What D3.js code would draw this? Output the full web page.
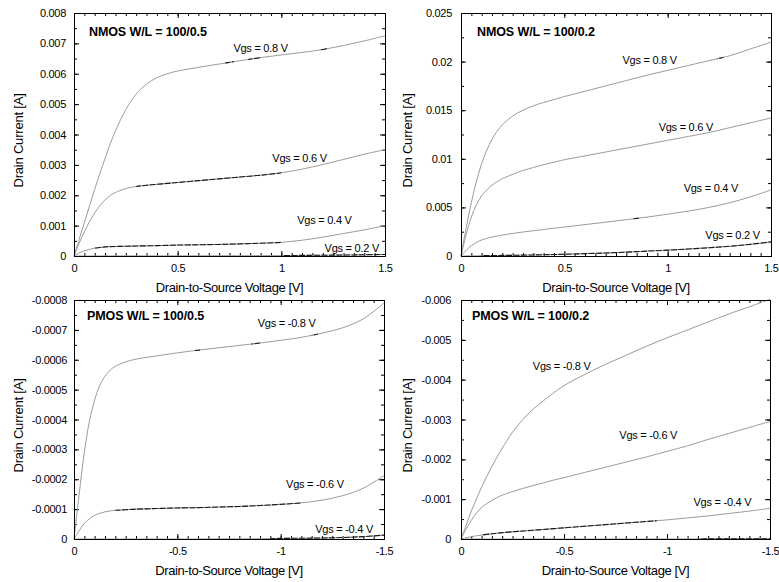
<!DOCTYPE html>
<html>
<head>
<meta charset="utf-8">
<script src="https://cdn.jsdelivr.net/npm/d3@7"></script>
<style>
  body { margin: 0; background: #fff; }
  svg { display: block; font-family: "Liberation Sans", Arial, Helvetica, sans-serif; }
</style>
</head>
<body>
<svg id="chart" width="779" height="582"></svg>
<script>
// Drain-to-source sweep points (magnitude, volts)
const vds = [0, 0.025, 0.05, 0.075, 0.1, 0.125, 0.15, 0.175, 0.2, 0.25, 0.3, 0.35, 0.4, 0.45, 0.5,
             0.6, 0.7, 0.8, 0.9, 1.0, 1.1, 1.2, 1.3, 1.4, 1.5];

// NMOS W/L = 100/0.5 drain current [mA]
const n05_vgs08 = [0, 0.55, 1.1, 1.65, 2.2, 2.72, 3.22, 3.7, 4.12, 4.82, 5.33, 5.66, 5.87, 6.0, 6.09,
                   6.21, 6.32, 6.43, 6.53, 6.62, 6.7, 6.8, 6.93, 7.08, 7.25];
const n05_vgs06 = [0, 0.42, 0.8, 1.13, 1.42, 1.66, 1.85, 1.99, 2.09, 2.22, 2.29, 2.33, 2.36, 2.39, 2.42,
                   2.48, 2.54, 2.6, 2.66, 2.74, 2.86, 3.01, 3.18, 3.35, 3.5];
const n05_vgs04 = [0, 0.1, 0.17, 0.22, 0.26, 0.28, 0.3, 0.31, 0.315, 0.32, 0.33, 0.335, 0.34, 0.35, 0.36,
                   0.37, 0.38, 0.4, 0.42, 0.45, 0.52, 0.62, 0.74, 0.86, 1.0];
const n05_vgs02 = [0, 0, 0, 0, 0.002, 0.002, 0.003, 0.003, 0.004, 0.005, 0.005, 0.005, 0.006, 0.006, 0.007,
                   0.008, 0.009, 0.01, 0.012, 0.015, 0.02, 0.025, 0.032, 0.04, 0.05];

// NMOS W/L = 100/0.2 drain current [mA]
const n02_vgs08 = [0, 2.9, 5.5, 7.7, 9.5, 10.9, 12.0, 12.85, 13.5, 14.4, 15.0, 15.45, 15.8, 16.1, 16.4,
                   16.95, 17.5, 18.05, 18.6, 19.1, 19.6, 20.1, 20.6, 21.3, 22.0];
const n02_vgs06 = [0, 2.2, 4.0, 5.3, 6.2, 6.8, 7.3, 7.65, 7.95, 8.4, 8.8, 9.1, 9.4, 9.65, 9.9,
                   10.3, 10.7, 11.1, 11.5, 11.9, 12.3, 12.7, 13.2, 13.7, 14.2];
const n02_vgs04 = [0, 0.6, 1.05, 1.4, 1.65, 1.82, 1.95, 2.05, 2.15, 2.32, 2.47, 2.6, 2.73, 2.86, 2.98,
                   3.23, 3.48, 3.74, 4.0, 4.3, 4.62, 5.0, 5.48, 6.08, 6.8];
const n02_vgs02 = [0, 0.01, 0.02, 0.03, 0.04, 0.045, 0.05, 0.055, 0.06, 0.07, 0.09, 0.11, 0.13, 0.15, 0.18,
                   0.24, 0.31, 0.4, 0.5, 0.6, 0.72, 0.85, 1.0, 1.2, 1.45];

// PMOS W/L = 100/0.5 drain current magnitude [µA]
const p05_vgs08 = [0, 150, 290, 395, 465, 515, 545, 565, 578, 593, 602, 608, 613, 618, 623,
                   632, 640, 648, 656, 665, 675, 689, 707, 737, 790];
const p05_vgs06 = [0, 28, 52, 68, 79, 86, 91, 94, 96, 98, 100, 101, 102, 103, 104,
                   105, 107, 109, 112, 116, 121, 130, 145, 170, 212];
const p05_vgs04 = [0, 0, 0, 0, 0, 0, 0, 0, 0, 0, 0, 0, 0, 0, 0,
                   0, 0.5, 0.5, 1, 2, 2.5, 3.5, 5, 8, 13];

// PMOS W/L = 100/0.2 drain current magnitude [mA]
const p02_vgs08 = [0, 0.35, 0.7, 1.01, 1.3, 1.57, 1.82, 2.06, 2.28, 2.68, 3.0, 3.26, 3.47, 3.67, 3.85,
                   4.13, 4.38, 4.61, 4.84, 5.05, 5.25, 5.45, 5.65, 5.83, 6.02];
const p02_vgs06 = [0, 0.25, 0.47, 0.65, 0.79, 0.89, 0.97, 1.04, 1.1, 1.19, 1.27, 1.34, 1.41, 1.48, 1.54,
                   1.67, 1.8, 1.93, 2.06, 2.2, 2.34, 2.5, 2.65, 2.8, 2.95];
const p02_vgs04 = [0, 0.03, 0.06, 0.08, 0.1, 0.115, 0.13, 0.145, 0.16, 0.18, 0.2, 0.22, 0.24, 0.26, 0.28,
                   0.32, 0.36, 0.4, 0.44, 0.48, 0.53, 0.58, 0.64, 0.7, 0.77];
const p02_vgs02 = [0, 0, 0, 0, 0, 0, 0, 0, 0, 0, 0, 0, 0, 0, 0,
                   0, 0, 0, 0, 0.001, 0.001, 0.002, 0.002, 0.003, 0.004];

// Gate-source levels
const vgsN = ["0.8", "0.6", "0.4", "0.2"];
const vgsP = ["-0.8", "-0.6", "-0.4", "-0.2"];

// Tick values and labels
const xTicksN = [0, 0.5, 1, 1.5];
const xLabelsN = ["0", "0.5", "1", "1.5"];
const xTicksP = [0, -0.5, -1, -1.5];
const xLabelsP = ["0", "-0.5", "-1", "-1.5"];
const yTicksN05 = [0, 0.001, 0.002, 0.003, 0.004, 0.005, 0.006, 0.007, 0.008];
const yLabelsN05 = ["0", "0.001", "0.002", "0.003", "0.004", "0.005", "0.006", "0.007", "0.008"];
const yTicksN02 = [0, 0.005, 0.01, 0.015, 0.02, 0.025];
const yLabelsN02 = ["0", "0.005", "0.01", "0.015", "0.02", "0.025"];
const yTicksP05 = [0, -0.0001, -0.0002, -0.0003, -0.0004, -0.0005, -0.0006, -0.0007, -0.0008];
const yLabelsP05 = ["0", "-0.0001", "-0.0002", "-0.0003", "-0.0004", "-0.0005", "-0.0006", "-0.0007", "-0.0008"];
const yTicksP02 = [0, -0.001, -0.002, -0.003, -0.004, -0.005, -0.006];
const yLabelsP02 = ["0", "-0.001", "-0.002", "-0.003", "-0.004", "-0.005", "-0.006"];

// Panel layout: frame box, unit of the stored currents, label anchors (V, A)
// and voltage spans where the trace prints darker
const panels = [
  {
    title: "NMOS W/L = 100/0.5", box: { l: 74, t: 13, r: 385, b: 256 }, titleAt: [89, 36],
    sign: 1, unit: 1e-3, yMax: 0.008, xTicks: xTicksN, xLabels: xLabelsN, yTicks: yTicksN05, yLabels: yLabelsN05,
    yPad: 8, yTitleX: 18,
    series: [
      { vgs: vgsN[0], cur: n05_vgs08, at: [0.90, 0.00684], dark: [[0.73, 0.77], [0.84, 0.9], [1.19, 1.22]] },
      { vgs: vgsN[1], cur: n05_vgs06, at: [1.088, 0.00323], dark: [[0.3, 1.0]] },
      { vgs: vgsN[2], cur: n05_vgs04, at: [1.208, 0.00118], dark: [[0.1, 1.0]] },
      { vgs: vgsN[3], cur: n05_vgs02, at: [1.34, 0.00025], dark: [[1.0, 1.5]] }
    ]
  },
  {
    title: "NMOS W/L = 100/0.2", box: { l: 461, t: 13, r: 771, b: 256 }, titleAt: [477, 36],
    sign: 1, unit: 1e-3, yMax: 0.025, xTicks: xTicksN, xLabels: xLabelsN, yTicks: yTicksN02, yLabels: yLabelsN02,
    yPad: 9, yTitleX: 407,
    series: [
      { vgs: vgsN[0], cur: n02_vgs08, at: [0.913, 0.0202], dark: [[1.24, 1.27]] },
      { vgs: vgsN[1], cur: n02_vgs06, at: [1.088, 0.0133], dark: [] },
      { vgs: vgsN[2], cur: n02_vgs04, at: [1.209, 0.00697], dark: [[0.83, 0.86]] },
      { vgs: vgsN[3], cur: n02_vgs02, at: [1.314, 0.00216], dark: [[0.1, 1.5]] }
    ]
  },
  {
    title: "PMOS W/L = 100/0.5", box: { l: 74, t: 300, r: 384, b: 539 }, titleAt: [87, 320],
    sign: -1, unit: 1e-6, yMax: -0.0008, xTicks: xTicksP, xLabels: xLabelsP, yTicks: yTicksP05, yLabels: yLabelsP05,
    yPad: 7, yTitleX: 18,
    series: [
      { vgs: vgsP[0], cur: p05_vgs08, at: [1.029, -0.000722], dark: [[0.58, 0.61], [0.86, 0.9], [1.15, 1.18]] },
      { vgs: vgsP[1], cur: p05_vgs06, at: [1.166, -0.000184], dark: [[0.2, 1.1]] },
      { vgs: vgsP[2], cur: p05_vgs04, at: [1.307, -0.0000325], dark: [[0.95, 1.5]] }
    ]
  },
  {
    title: "PMOS W/L = 100/0.2", box: { l: 461, t: 300, r: 770, b: 539 }, titleAt: [472, 320],
    sign: -1, unit: 1e-3, yMax: -0.006, xTicks: xTicksP, xLabels: xLabelsP, yTicks: yTicksP02, yLabels: yLabelsP02,
    yPad: 10, yTitleX: 407,
    series: [
      { vgs: vgsP[0], cur: p02_vgs08, at: [0.489, -0.00433], dark: [] },
      { vgs: vgsP[1], cur: p02_vgs06, at: [0.909, -0.00261], dark: [] },
      { vgs: vgsP[2], cur: p02_vgs04, at: [1.269, -0.000937], dark: [[0.1, 0.95]] },
      { vgs: null, cur: p02_vgs02, at: null, dark: [[1.15, 1.5]] }
    ]
  }
];

const svg = d3.select("#chart");
const traceColor = "#9c9c9c";
const darkColor = "#1a1a1a";

panels.forEach((p, pi) => {
  const { l, t, r, b } = p.box;
  const x = d3.scaleLinear().domain([0, 1.5 * p.sign]).range([l, r]);
  const y = d3.scaleLinear().domain([0, p.yMax]).range([b, t]);
  const g = svg.append("g");

  // Minor tick positions: every 0.05 V, and halfway between labelled currents
  const xMinor = d3.range(0, 31).map(i => p.sign * i * 0.05);
  const yStep = p.yTicks[1] - p.yTicks[0];
  const yMinor = d3.range(0, (p.yTicks.length - 1) * 2 + 1).map(i => i * yStep / 2);

  const styleAxis = sel => {
    sel.select(".domain").remove();
    sel.selectAll(".tick line").attr("stroke", "#000");
    sel.selectAll("text")
      .attr("fill", "#000")
      .style("font-family", "'Liberation Sans', Arial, Helvetica, sans-serif")
      .style("font-size", "11px")
      .style("letter-spacing", "-0.3px");
  };

  // Bottom axis with labels, plus mirrored ticks on every side
  g.append("g").attr("transform", `translate(0,${b})`)
    .call(d3.axisBottom(x).tickValues(p.xTicks).tickSize(-5).tickPadding(8)
      .tickFormat((d, i) => p.xLabels[i])).call(styleAxis);
  g.append("g").attr("transform", `translate(0,${b})`)
    .call(d3.axisBottom(x).tickValues(xMinor).tickSize(-3).tickFormat("")).call(styleAxis);
  g.append("g").attr("transform", `translate(0,${t})`)
    .call(d3.axisTop(x).tickValues(p.xTicks).tickSize(-5).tickFormat("")).call(styleAxis);
  g.append("g").attr("transform", `translate(0,${t})`)
    .call(d3.axisTop(x).tickValues(xMinor).tickSize(-3).tickFormat("")).call(styleAxis);

  g.append("g").attr("transform", `translate(${l},0)`)
    .call(d3.axisLeft(y).tickValues(p.yTicks).tickSize(-5).tickPadding(p.yPad)
      .tickFormat((d, i) => p.yLabels[i])).call(styleAxis);
  g.append("g").attr("transform", `translate(${l},0)`)
    .call(d3.axisLeft(y).tickValues(yMinor).tickSize(-3).tickFormat("")).call(styleAxis);
  g.append("g").attr("transform", `translate(${r},0)`)
    .call(d3.axisRight(y).tickValues(p.yTicks).tickSize(-5).tickFormat("")).call(styleAxis);
  g.append("g").attr("transform", `translate(${r},0)`)
    .call(d3.axisRight(y).tickValues(yMinor).tickSize(-3).tickFormat("")).call(styleAxis);

  // Curves: stored magnitudes converted to signed amps
  const line = d3.line()
    .x((d, i) => x(p.sign * vds[i]))
    .y(d => y(p.sign * d * p.unit))
    .curve(d3.curveCatmullRom.alpha(0.5));

  p.series.forEach((s, si) => {
    const dPath = line(s.cur);
    g.append("path").attr("d", dPath)
      .attr("fill", "none").attr("stroke", traceColor).attr("stroke-width", 1);

    s.dark.forEach((span, k) => {
      const id = `dk-${pi}-${si}-${k}`;
      const xa = x(p.sign * span[0]), xb = x(p.sign * span[1]);
      svg.append("clipPath").attr("id", id).append("rect")
        .attr("x", Math.min(xa, xb)).attr("y", t).attr("width", Math.abs(xb - xa)).attr("height", b - t + 1);
      g.append("path").attr("d", dPath).attr("clip-path", `url(#${id})`)
        .attr("fill", "none").attr("stroke", darkColor).attr("stroke-width", 1.1)
        .attr("stroke-dasharray", "6,1.5");
    });

    if (s.vgs !== null) {
      g.append("text")
        .attr("x", x(p.sign * s.at[0])).attr("y", y(s.at[1])).attr("dy", "0.35em")
        .attr("text-anchor", "middle")
        .style("font-size", "11px").style("letter-spacing", "-0.25px")
        .text(`Vgs = ${s.vgs} V`);
    }
  });

  // Frame
  g.append("rect")
    .attr("x", l + 0.5).attr("y", t + 0.5).attr("width", r - l).attr("height", b - t)
    .attr("fill", "none").attr("stroke", "#000").attr("stroke-width", 1);

  // Panel title
  g.append("text").attr("x", p.titleAt[0]).attr("y", p.titleAt[1])
    .style("font-size", "12.5px").style("font-weight", "bold").style("letter-spacing", "-0.1px")
    .text(p.title);

  // Axis titles
  g.append("text").attr("x", (l + r) / 2).attr("y", b + 36)
    .attr("text-anchor", "middle")
    .style("font-size", "13px").style("letter-spacing", "-0.4px")
    .text("Drain-to-Source Voltage [V]");
  g.append("text")
    .attr("transform", `translate(${p.yTitleX},${(t + b) / 2 + 6}) rotate(-90)`)
    .attr("text-anchor", "middle").attr("dy", "0.35em")
    .style("font-size", "13px").style("letter-spacing", "-0.2px")
    .text("Drain Current [A]");
});
</script>
</body>
</html>
